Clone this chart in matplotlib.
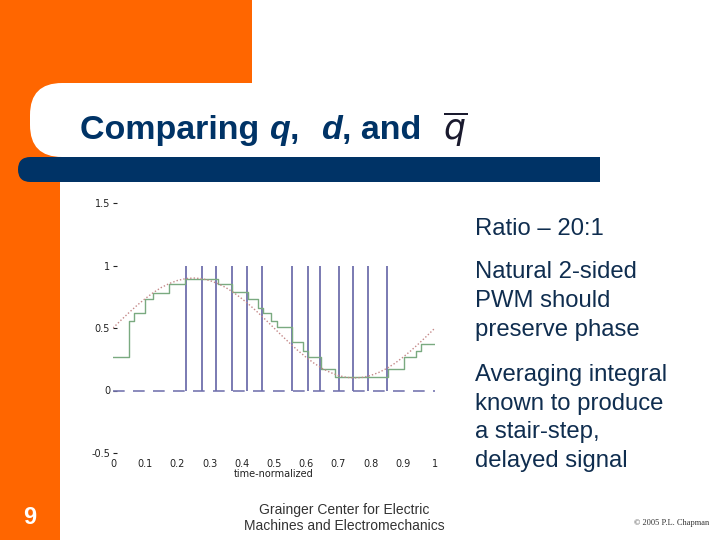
import matplotlib.pyplot as plt
from matplotlib.patches import Rectangle, FancyBboxPatch

# reference signal q (sampled every 0.025 of normalized time)
q_t = [i * 0.025 for i in range(41)]
q_vals = [0.500, 0.563, 0.624, 0.682, 0.735, 0.783, 0.824, 0.856, 0.880, 0.895,
          0.900, 0.895, 0.880, 0.856, 0.824, 0.783, 0.735, 0.682, 0.624, 0.563,
          0.500, 0.437, 0.376, 0.318, 0.265, 0.217, 0.176, 0.144, 0.120, 0.105,
          0.100, 0.105, 0.120, 0.144, 0.176, 0.217, 0.265, 0.318, 0.376, 0.437,
          0.500]

# averaged signal q-bar (stair-step), step start times and levels
stair_t = [0.0, 0.05, 0.065, 0.10, 0.125, 0.175, 0.225, 0.325, 0.37, 0.42,
           0.45, 0.465, 0.49, 0.51, 0.555, 0.59, 0.605, 0.645, 0.69, 0.855,
           0.905, 0.94, 0.955, 1.0]
stair_v = [0.27, 0.56, 0.62, 0.735, 0.78, 0.855, 0.89, 0.853, 0.787, 0.73,
           0.66, 0.62, 0.56, 0.506, 0.386, 0.32, 0.267, 0.173, 0.105, 0.173,
           0.267, 0.315, 0.373, 0.373]

# switching edges of d that are visible in the picture
pwm_edges = [0.227, 0.275, 0.321, 0.371, 0.416, 0.463, 0.557, 0.607, 0.643,
             0.703, 0.746, 0.793, 0.851]

x_ticks = [0, 0.1, 0.2, 0.3, 0.4, 0.5, 0.6, 0.7, 0.8, 0.9, 1]
x_labels = ['0', '0.1', '0.2', '0.3', '0.4', '0.5', '0.6', '0.7', '0.8', '0.9', '1']
y_ticks = [-0.5, 0, 0.5, 1, 1.5]
y_labels = ['-0.5', '0', '0.5', '1', '1.5']

title_parts = [("Comparing ", 'normal'), ("q", 'italic'), (", ", 'normal'),
               ("d", 'italic'), (", and ", 'normal')]
title_gaps = [0, 0, 13, 0, 8]  # extra space after each piece, px

bullets = ["Ratio \u2013 20:1",
           "Natural 2-sided\nPWM should\npreserve phase",
           "Averaging integral\nknown to produce\na stair-step,\ndelayed signal"]

ORANGE = '#ff6600'
NAVY = '#003366'
TEXT = '#0f2d4f'

fig = plt.figure(figsize=(7.2, 5.4), dpi=100)
renderer = fig.canvas.get_renderer()

# slide background drawn in pixel coordinates
bg = fig.add_axes([0, 0, 1, 1])
bg.set_xlim(0, 720)
bg.set_ylim(540, 0)
bg.axis('off')

bg.add_patch(Rectangle((0, 0), 252, 157, color=ORANGE, lw=0))
bg.add_patch(Rectangle((0, 0), 60, 540, color=ORANGE, lw=0))
bg.add_patch(FancyBboxPatch((30, 83), 760, 74, boxstyle="round,pad=0,rounding_size=32",
                            fc='white', ec='none'))
bg.add_patch(FancyBboxPatch((18, 157), 600, 25, boxstyle="round,pad=0,rounding_size=12.5",
                            fc=NAVY, ec='none'))
bg.add_patch(Rectangle((580, 157), 20, 25, color=NAVY, lw=0))
bg.add_patch(Rectangle((600, 150), 30, 40, color='white', lw=0))

# title, laid out piece by piece
x = 80
for (txt, st), gap in zip(title_parts, title_gaps):
    t = bg.text(x, 139, txt, fontsize=24.5, fontweight='bold', style=st, color=NAVY,
                family='Liberation Sans', va='baseline', ha='left')
    x += t.get_window_extent(renderer).width + gap
bg.text(x + 4, 139, r"$\overline{q}$", fontsize=25, color='#1a1a2e', va='baseline')

# bullet text
bg.text(475, 229, bullets[0], fontsize=17.2, color=TEXT, family='Liberation Sans',
        va='center', ha='left')
bg.text(475, 301, bullets[1], fontsize=17.2, color=TEXT, family='Liberation Sans',
        va='center', ha='left', linespacing=1.4)
bg.text(475, 418, bullets[2], fontsize=17.2, color=TEXT, family='Liberation Sans',
        va='center', ha='left', linespacing=1.4)

# footer
bg.text(30, 518, "9", fontsize=17, fontweight='bold', color='white',
        family='Liberation Sans', ha='center', va='center')
bg.text(344, 518, "Grainger Center for Electric\nMachines and Electromechanics",
        fontsize=10, color='#333333', family='Liberation Sans', ha='center',
        va='center', linespacing=1.1)
bg.text(672, 523, "\u00a9 2005 P.L. Chapman", fontsize=6, color='#333333',
        family='Liberation Serif', ha='center', va='center')

# chart
ax = fig.add_axes([113 / 720, (540 - 453) / 540, 322 / 720, 250 / 540])
ax.patch.set_alpha(0)
ax.axhline(0, color='#7777b0', lw=1.2, dashes=(7, 5))
ax.vlines(pwm_edges, 0, 1, color='#7070ad', lw=1.3)
ax.step(stair_t, stair_v, where='post', color='#7aaa80', lw=1.0)
ax.plot(q_t, q_vals, color='#c48888', lw=1.0, ls=(0, (1, 1.5)))

ax.set_xlim(0, 1)
ax.set_ylim(-0.5, 1.5)
for s in ax.spines.values():
    s.set_visible(False)
ax.set_xticks(x_ticks)
ax.set_xticklabels(x_labels)
ax.set_xticks([0.2, 0.3, 0.5, 0.7, 0.8], minor=True)
ax.set_yticks(y_ticks)
ax.set_yticklabels(y_labels)
ax.tick_params(axis='x', which='major', length=0, labelsize=7, pad=4, colors='#222222')
ax.tick_params(axis='x', which='minor', length=3, direction='in', top=True,
               bottom=True, color='#777777', width=0.8)
ax.tick_params(axis='y', which='major', length=3, direction='in', labelsize=7,
               pad=2, colors='#222222')
ax.set_xlabel("time-normalized", fontsize=7, labelpad=0, color='#222222')

fig.savefig("out.png", dpi=100)
